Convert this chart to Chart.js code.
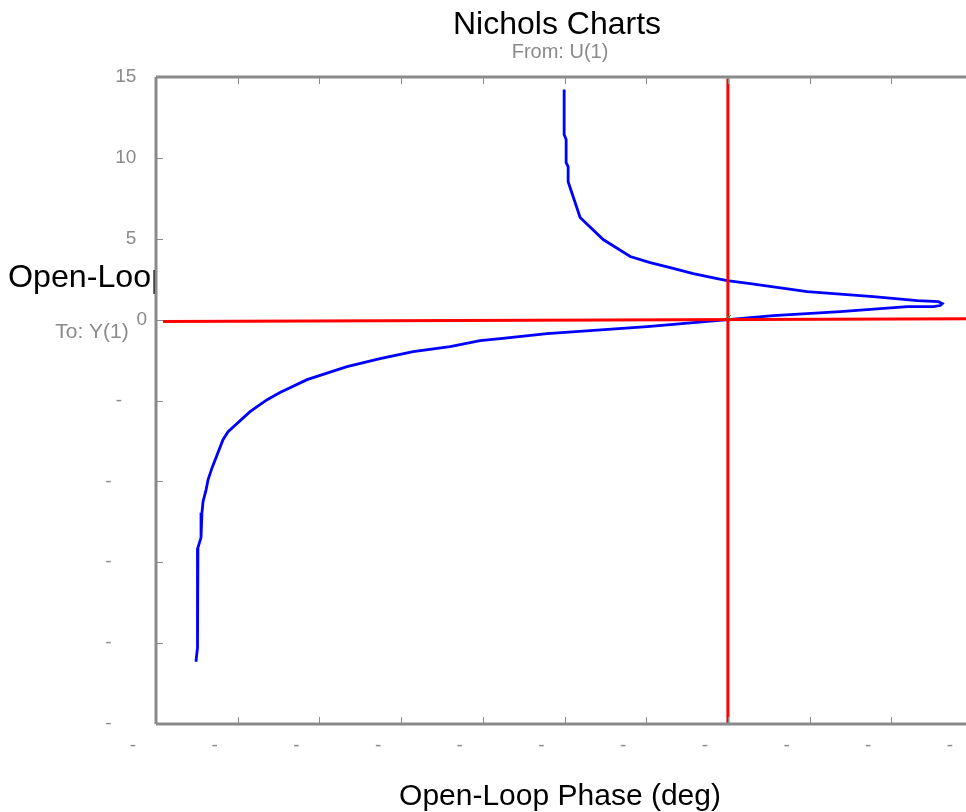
<!DOCTYPE html>
<html lang="en">
<head>
  <meta charset="UTF-8">
  <title>Nichols Charts</title>
  <script src="https://cdn.jsdelivr.net/npm/chart.js"></script>
  <style>
    html, body {
      margin: 0;
      padding: 0;
      background: #ffffff;
      overflow: hidden;
    }
    canvas { display: block; }
  </style>
</head>
<body>

  <canvas id="nichols" width="1012" height="812"></canvas>

  <script>
    // open-loop response: phase (deg) and gain (dB), low to high frequency
    const phaseDeg = [
      -270.2, -270.2, -269.1, -269.1, -268.0, -268.0, -261.4, -248.7, -233.8, -222.8,
      -211.8, -199.1, -185.9, -180.4, -167.7, -136.3, -99.9, -75.7, -64.1, -61.9,
      -63.0, -66.9, -81.2, -118.1, -155.0, -180.0, -224.4, -279.6, -305.4, -316.5,
      -333.0, -353.4, -371.6, -389.8, -411.8, -426.7, -433.8, -443.2, -455.3, -458.1,
      -464.1, -466.3, -467.4, -469.1, -469.7, -470.2, -470.2, -471.9, -471.9, -472.4,
      -473.0
    ];
    const gainDb = [
      14.22, 11.44, 11.13, 9.71, 9.46, 8.53, 6.31, 4.95, 3.90, 3.53,
      3.22, 2.84, 2.53, 2.41, 2.23, 1.73, 1.42, 1.18, 1.11, 0.99,
      0.87, 0.80, 0.80, 0.49, 0.25, 0.00, -0.43, -0.87, -1.18, -1.30,
      -1.67, -1.98, -2.41, -2.91, -3.71, -4.51, -4.95, -5.69, -6.93, -7.42,
      -9.15, -9.89, -10.51, -11.26, -11.94, -12.55, -13.48, -14.10, -19.98, -20.29,
      -21.15
    ];

    // critical point guides
    const critPhase = -180;
    const critGain = 0;
    const zeroLinePhase = [-491.1, -45];
    const zeroLineGain = [-0.12, 0.06];
    const critLineGain = [14.9, -25];

    // axis ranges and tick steps
    const phaseMin = -495, phaseMax = -45, phaseStep = 45;
    const gainMin = -25, gainMax = 15, gainStep = 5;

    const curve = phaseDeg.map((p, i) => ({ x: p, y: gainDb[i] }));
    const zeroLine = zeroLinePhase.map((p, i) => ({ x: p, y: zeroLineGain[i] }));
    const critLine = critLineGain.map(g => ({ x: critPhase, y: g }));

    const GRAY = '#8a8a8a';
    const FONT = '"Liberation Sans", Arial, sans-serif';
    const FS = '\u2007';   // figure space
    const TS = '\u2009';   // thin space

    // frame, inward tick marks and the page texts
    const decorations = {
      id: 'decorations',
      beforeDatasetsDraw(chart) {
        const { ctx, chartArea: a } = chart;
        // y title sits under the plot frame, only its left part shows
        ctx.save();
        ctx.beginPath();
        ctx.rect(0, 0, a.left - 1, chart.height);
        ctx.clip();
        ctx.fillStyle = '#000';
        ctx.font = '32.2px ' + FONT;
        ctx.textAlign = 'left';
        ctx.textBaseline = 'middle';
        ctx.fillText('Open-Loop Gain (dB)', 8, 278);
        ctx.restore();
      },
      afterDatasetsDraw(chart) {
        const { ctx, chartArea: a, scales } = chart;
        ctx.save();
        ctx.strokeStyle = GRAY;
        ctx.lineWidth = 1;
        const tl = 7;
        scales.x.ticks.forEach(t => {
          const px = Math.round(scales.x.getPixelForValue(t.value)) + 0.5;
          ctx.beginPath();
          ctx.moveTo(px, a.top); ctx.lineTo(px, a.top + tl);
          ctx.moveTo(px, a.bottom); ctx.lineTo(px, a.bottom - tl);
          ctx.stroke();
        });
        scales.y.ticks.forEach(t => {
          const py = Math.round(scales.y.getPixelForValue(t.value)) + 0.5;
          ctx.beginPath();
          ctx.moveTo(a.left, py); ctx.lineTo(a.left + tl, py);
          ctx.moveTo(a.right, py); ctx.lineTo(a.right - tl, py);
          ctx.stroke();
        });
        ctx.lineWidth = 3;
        ctx.beginPath();
        ctx.moveTo(a.left, a.top); ctx.lineTo(a.left, a.bottom);
        ctx.moveTo(a.left, a.top); ctx.lineTo(a.right, a.top);
        ctx.moveTo(a.left, a.bottom); ctx.lineTo(a.right, a.bottom);
        ctx.moveTo(a.right, a.top); ctx.lineTo(a.right, a.bottom);
        ctx.stroke();
        ctx.restore();
      },
      afterDraw(chart) {
        const ctx = chart.ctx;
        ctx.save();
        ctx.textAlign = 'center';
        ctx.textBaseline = 'middle';
        ctx.fillStyle = '#000';
        ctx.font = '32px ' + FONT;
        ctx.fillText('Nichols Charts', 557, 25);
        ctx.font = '30px ' + FONT;
        ctx.fillText('Open-Loop Phase (deg)', 560, 797);
        ctx.fillStyle = GRAY;
        ctx.font = '20px ' + FONT;
        ctx.fillText('From: U(1)', 560, 52);
        ctx.font = '21px ' + FONT;
        ctx.fillText('To: Y(1)', 92, 332);
        ctx.restore();
      }
    };

    new Chart(document.getElementById('nichols'), {
      type: 'scatter',
      data: {
        datasets: [
          {
            label: 'crossing',
            data: [{ x: critPhase + 0.5, y: critGain + 0.15 }],
            showLine: false,
            pointStyle: 'crossRot',
            pointRadius: 3,
            borderColor: '#3a9a3a',
            borderWidth: 1
          },
          {
            label: '0 dB',
            data: zeroLine,
            showLine: true,
            borderColor: '#ff0000',
            borderWidth: 3,
            pointRadius: 0
          },
          {
            label: '-180 deg',
            data: critLine,
            showLine: true,
            borderColor: '#ff0000',
            borderWidth: 3,
            pointRadius: 0
          },
          {
            label: 'L(jw)',
            data: curve,
            showLine: true,
            borderColor: '#0000ff',
            borderWidth: 2.8,
            pointRadius: 0,
            tension: 0
          }
        ]
      },
      options: {
        responsive: false,
        animation: false,
        layout: { padding: { top: 77, right: 39, left: 0, bottom: 0 } },
        plugins: {
          legend: { display: false },
          tooltip: { enabled: false }
        },
        scales: {
          x: {
            type: 'linear',
            min: phaseMin,
            max: phaseMax,
            grid: { display: false },
            border: { display: false },
            afterFit: s => {
              s.height = 88;
              s.paddingLeft = 0;
              s.paddingRight = 0;
            },
            ticks: {
              stepSize: phaseStep,
              autoSkip: false,
              maxRotation: 0,
              padding: 2,
              color: GRAY,
              font: { family: FONT, size: 19 },
              callback: () => '-' + FS + FS + FS + FS + TS
            }
          },
          y: {
            type: 'linear',
            min: gainMin,
            max: gainMax,
            grid: { display: false },
            border: { display: false },
            afterFit: s => {
              s.width = 156;
              s.paddingTop = 0;
              s.paddingBottom = 0;
            },
            ticks: {
              stepSize: gainStep,
              padding: 1,
              color: GRAY,
              font: { family: FONT, size: 19 },
              callback: v => {
                if (v === 0) return '0';
                if (v > 0) return String(v) + FS;
                if (v === -5) return '-' + FS + FS + TS;
                return '-' + FS + FS + FS + TS;
              }
            }
          }
        }
      },
      plugins: [decorations]
    });
  </script>

</body>
</html>
